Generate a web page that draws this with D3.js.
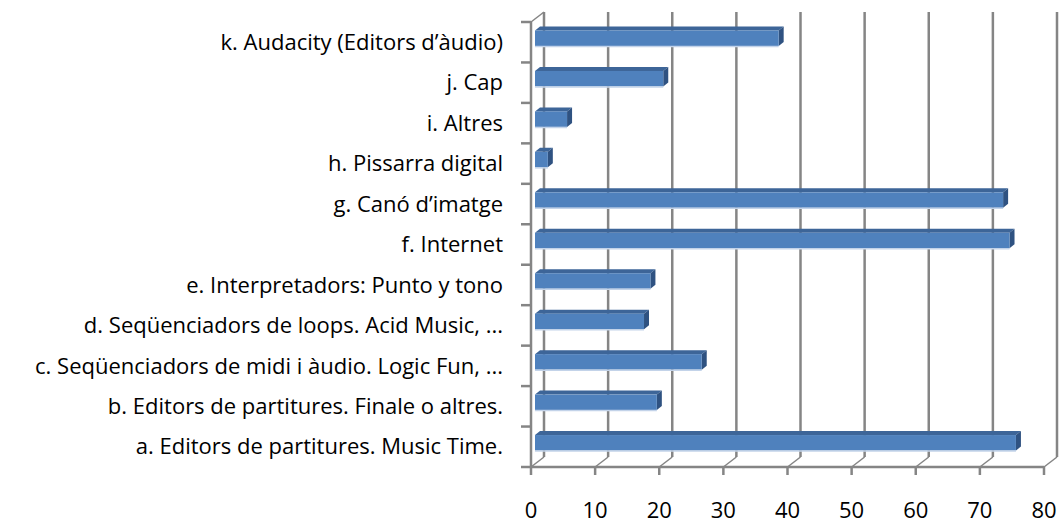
<!DOCTYPE html>
<html>
<head>
<meta charset="utf-8">
<script src="https://cdn.jsdelivr.net/npm/d3@7"></script>
<style>
  body { margin: 0; background: #fff; }
  text { font-family: 'Open Sans', sans-serif; fill: #000; }
</style>
</head>
<body>
<div class="graph"></div>
<script>
// Categories, top to bottom as drawn
const categories = [
  'k. Audacity (Editors d’àudio)',
  'j. Cap',
  'i. Altres',
  'h. Pissarra digital',
  'g. Canó d’imatge',
  'f. Internet',
  'e. Interpretadors: Punto y tono',
  'd. Seqüenciadors de loops. Acid Music, ...',
  'c. Seqüenciadors de midi i àudio. Logic Fun, ...',
  'b. Editors de partitures. Finale o altres.',
  'a. Editors de partitures. Music Time.'
];
const values = [38, 20, 5, 2, 73, 74, 18, 17, 26, 19, 75];
const xTicks = [0, 10, 20, 30, 40, 50, 60, 70, 80];

document.addEventListener('DOMContentLoaded', function () {
  const width = 1060;
  const height = 525;

  // 3D depth offset of back wall
  const depthX = 13;
  const depthY = -10;
  const axisColor = '#858585';

  const svg = d3.select('.graph')
    .append('svg')
    .attr('width', width)
    .attr('height', height);

  const x = d3.scaleLinear().domain([0, 80]).range([531, 1044]);
  const y = d3.scaleBand().domain(categories).range([22, 467]);

  // Back wall gridlines + floor diagonals
  const grid = svg.append('g');
  grid.selectAll('line.grid')
    .data(xTicks)
    .enter()
    .append('line')
    .attr('x1', d => x(d) + depthX)
    .attr('x2', d => x(d) + depthX)
    .attr('y1', 22 + depthY)
    .attr('y2', 467 + depthY)
    .style('stroke', axisColor)
    .style('stroke-width', 2.5);

  grid.selectAll('line.diag')
    .data(xTicks)
    .enter()
    .append('line')
    .attr('x1', d => x(d))
    .attr('y1', 467)
    .attr('x2', d => x(d) + depthX)
    .attr('y2', 467 + depthY)
    .style('stroke', axisColor)
    .style('stroke-width', 1.5);

  // Left wall edge + top diagonal
  grid.append('line')
    .attr('x1', x(0)).attr('x2', x(0))
    .attr('y1', 22).attr('y2', 467)
    .style('stroke', axisColor)
    .style('stroke-width', 2.5);
  grid.append('line')
    .attr('x1', x(0)).attr('y1', 22)
    .attr('x2', x(0) + depthX).attr('y2', 22 + depthY)
    .style('stroke', axisColor)
    .style('stroke-width', 1.5);

  // Front floor axis
  grid.append('line')
    .attr('x1', x(0)).attr('x2', x(80))
    .attr('y1', 467).attr('y2', 467)
    .style('stroke', axisColor)
    .style('stroke-width', 2.5);

  // Category ticks
  const catTicks = categories.map(d => y(d)).concat([467]);
  grid.selectAll('line.ytick')
    .data(catTicks)
    .enter()
    .append('line')
    .attr('x1', x(0) - 10)
    .attr('x2', x(0))
    .attr('y1', d => d)
    .attr('y2', d => d)
    .style('stroke', axisColor)
    .style('stroke-width', 2.5);

  // Value ticks
  grid.selectAll('line.xtick')
    .data(xTicks)
    .enter()
    .append('line')
    .attr('x1', d => x(d))
    .attr('x2', d => x(d))
    .attr('y1', 467)
    .attr('y2', 475)
    .style('stroke', axisColor)
    .style('stroke-width', 2.5);

  // Bars (front face, top, side)
  const bx = 4;   // bar front offset into depth
  const bdx = 5;  // bar depth
  const bdy = -4;
  const data = categories.map((c, i) => ({ name: c, value: values[i] }));
  const bars = svg.append('g').selectAll('g')
    .data(data)
    .enter()
    .append('g');

  bars.append('path')
    .attr('d', d => {
      const x0 = x(0) + bx, x1 = x(d.value) + bx, y0 = y(d.name) + 8.5;
      return `M${x0},${y0} L${x0 + bdx},${y0 + bdy} L${x1 + bdx},${y0 + bdy} L${x1},${y0} Z`;
    })
    .style('fill', '#3d6598');

  bars.append('path')
    .attr('d', d => {
      const x1 = x(d.value) + bx, y0 = y(d.name) + 8.5;
      return `M${x1},${y0} L${x1 + bdx},${y0 + bdy} L${x1 + bdx},${y0 + bdy + 15.5} L${x1},${y0 + 15.5} Z`;
    })
    .style('fill', '#2f5281');

  bars.append('rect')
    .attr('x', x(0) + bx)
    .attr('y', d => y(d.name) + 8.5)
    .attr('width', d => x(d.value) - x(0))
    .attr('height', 15.5)
    .style('fill', '#4f81bd');

  // light edge under each bar
  bars.append('line')
    .attr('x1', x(0) + bx)
    .attr('x2', d => x(d.value) + bx)
    .attr('y1', d => y(d.name) + 24.5)
    .attr('y2', d => y(d.name) + 24.5)
    .style('stroke', '#c3d3e9')
    .style('stroke-width', 1.5);

  // Category labels
  svg.append('g').selectAll('text')
    .data(categories)
    .enter()
    .append('text')
    .attr('x', 503)
    .attr('y', d => y(d) + y.bandwidth() / 2)
    .attr('dy', '.35em')
    .attr('text-anchor', 'end')
    .attr('font-size', '22px')
    .text(d => d);

  // Value labels
  svg.append('g').selectAll('text')
    .data(xTicks)
    .enter()
    .append('text')
    .attr('x', d => x(d))
    .attr('y', 510)
    .attr('dy', '.35em')
    .attr('text-anchor', 'middle')
    .attr('font-size', '22px')
    .text(d => d);
});
</script>
</body>
</html>
